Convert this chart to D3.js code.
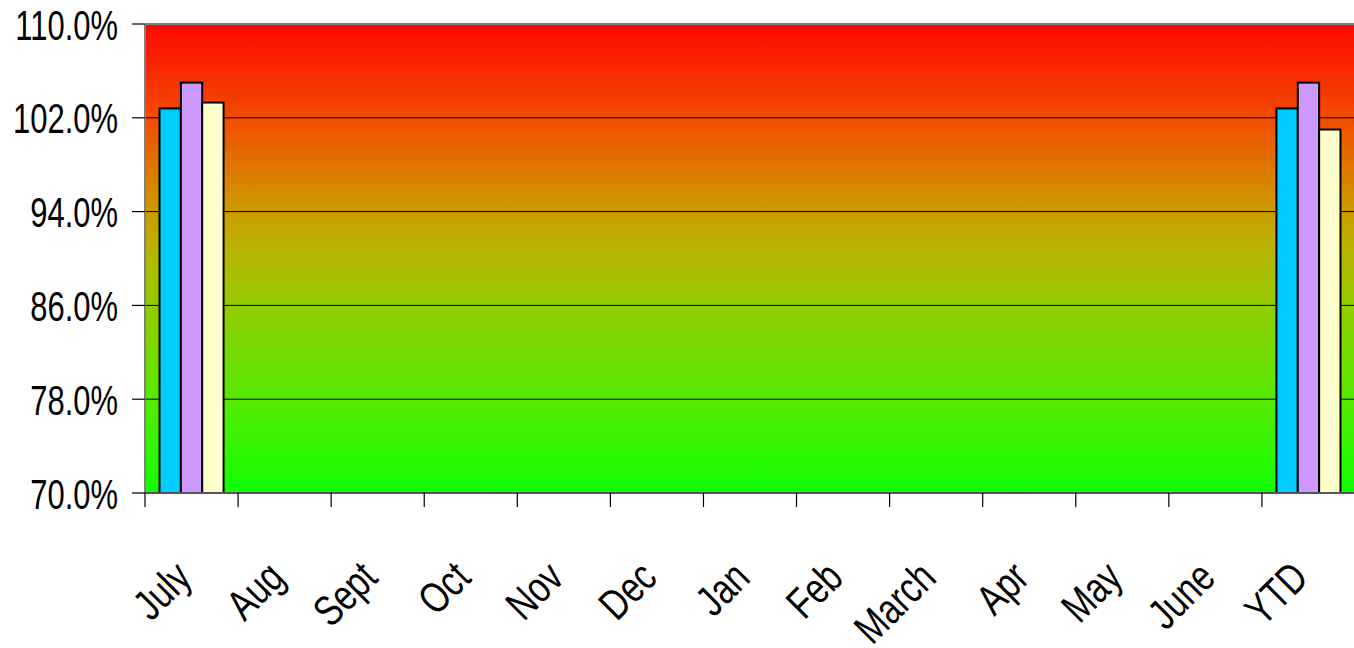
<!DOCTYPE html>
<html><head><meta charset="utf-8">
<script src="https://cdn.jsdelivr.net/npm/d3@7"></script>
<style>html,body{margin:0;padding:0;background:#fff;}svg{display:block;}</style>
</head><body>
<svg id="c" width="1354" height="648"></svg>
<script>
const categories = ["July","Aug","Sept","Oct","Nov","Dec","Jan","Feb","March","Apr","May","June","YTD"];
const series1 = [102.8,null,null,null,null,null,null,null,null,null,null,null,102.8];
const series2 = [105.0,null,null,null,null,null,null,null,null,null,null,null,105.0];
const series3 = [103.3,null,null,null,null,null,null,null,null,null,null,null,101.0];
const seriesNames = ["Series 1","Series 2","Series 3"];
const seriesColors = ["#00ccff","#cc99ff","#ffffcc"];
const yTicks = [70,78,86,94,102,110];

const svg = d3.select("#c");
const L = 145, R = 1355, T = 24, B = 493;
const x = d3.scaleBand().domain(categories).range([L, R]).paddingInner(0).paddingOuter(0);
const y = d3.scaleLinear().domain([70,110]).range([B, T]);
const xs = d3.scaleBand().domain(seriesNames).range([0, x.bandwidth()]).paddingOuter(0.68).paddingInner(0);

const defs = svg.append("defs");
const g = defs.append("linearGradient").attr("id","bg").attr("x1",0).attr("y1",0).attr("x2",0).attr("y2",1);
[[0,"#ff0800"],[0.2,"#f24c00"],[0.4,"#cc9c00"],[0.5,"#b2b800"],[0.6,"#94cc00"],[0.8,"#56ea00"],[1,"#10ff00"]]
  .forEach(([o,c]) => g.append("stop").attr("offset",o).attr("stop-color",c));

svg.append("rect").attr("x",L).attr("y",T).attr("width",R-L).attr("height",B-T).attr("fill","url(#bg)");

// grid
svg.append("g").selectAll("line").data(yTicks.filter(d=>d>70&&d<110)).join("line")
  .attr("x1",L).attr("x2",R).attr("y1",d=>y(d)).attr("y2",d=>y(d)).attr("stroke","#000").attr("stroke-width",1);
// top border
svg.append("line").attr("x1",L).attr("x2",R).attr("y1",T).attr("y2",T).attr("stroke","#808080").attr("stroke-width",2);

// bars
const data = [series1,series2,series3];
const bars = [];
categories.forEach((c,i)=>{
  data.forEach((s,j)=>{ if(s[i]!=null) bars.push({c, name:seriesNames[j], v:s[i], color:seriesColors[j]}); });
});
svg.append("g").selectAll("rect").data(bars).join("rect")
  .attr("x",d=>x(d.c)+xs(d.name)).attr("width",xs.bandwidth())
  .attr("y",d=>y(d.v)).attr("height",d=>B-y(d.v))
  .attr("fill",d=>d.color).attr("stroke","#000").attr("stroke-width",2);

// axes lines
svg.append("line").attr("x1",L).attr("x2",L).attr("y1",T).attr("y2",B).attr("stroke","#808080").attr("stroke-width",2);
svg.append("line").attr("x1",L).attr("x2",R).attr("y1",B).attr("y2",B).attr("stroke","#555").attr("stroke-width",2);

// y ticks
svg.append("g").selectAll("line").data(yTicks).join("line")
  .attr("x1",L-13).attr("x2",L).attr("y1",d=>y(d)).attr("y2",d=>y(d)).attr("stroke","#000").attr("stroke-width",1.2);
const fmt = d3.format(".1f");
svg.append("g").selectAll("text").data(yTicks).join("text")
  .attr("transform",d=>`translate(118,${y(d)+15.5}) scale(0.72,1)`)
  .attr("text-anchor","end").attr("font-family","Liberation Sans, Arial, sans-serif").attr("font-size",43)
  .attr("fill","#000").text(d=>fmt(d)+"%");

// x ticks at boundaries
const bounds = categories.map(c=>x(c));
svg.append("g").selectAll("line").data(bounds).join("line")
  .attr("x1",d=>d).attr("x2",d=>d).attr("y1",B).attr("y2",B+14).attr("stroke","#000").attr("stroke-width",1.2);
svg.append("g").selectAll("text").data(categories).join("text")
  .attr("transform",d=>`translate(${x(d)+x.bandwidth()/2+2},580) rotate(-45) scale(0.78,1)`)
  .attr("text-anchor","end").attr("font-family","Liberation Sans, Arial, sans-serif").attr("font-size",43)
  .attr("fill","#000").text(d=>d);
</script>
</body></html>
